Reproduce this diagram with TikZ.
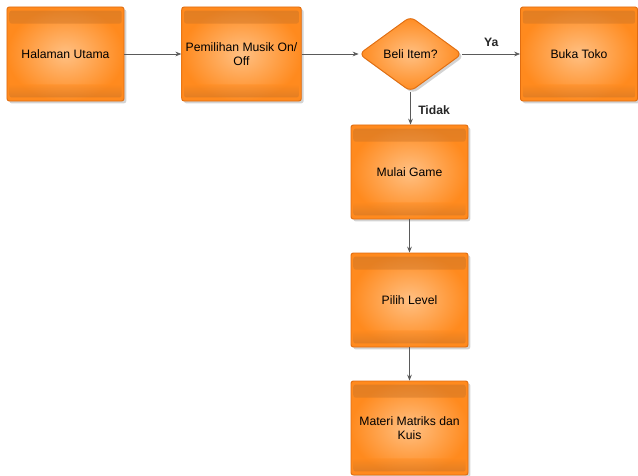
\documentclass[tikz,border=0pt]{standalone}
\usepackage{fontspec}
\setmainfont{Liberation Sans}
\usepackage{tikz}
\usetikzlibrary{arrows.meta, shapes.geometric, shadows}

\definecolor{oranyeTerang}{HTML}{FFC083}
\definecolor{oranyeGelap}{HTML}{FF8A1E}
\definecolor{oranyeGaris}{HTML}{E06D10}
\definecolor{oranyePita}{HTML}{C0702A}
\definecolor{panah}{HTML}{5A5A5A}

\tikzset{
	kotak/.style={
		rectangle,
		rounded corners=2pt,
		draw=oranyeGaris,
		line width=0.8pt,
		inner color=oranyeTerang,
		outer color=oranyeGelap,
		minimum width=3.51cm,
		minimum height=2.82cm,
		align=center,
		font=\fontsize{10.4}{12}\selectfont,
		drop shadow={shadow xshift=2pt, shadow yshift=-2pt, opacity=0.35},
		path picture={
			\shade[top color=oranyePita, bottom color=oranyeGelap, opacity=0.45, rounded corners=2pt]
				([xshift=2pt, yshift=-3pt]path picture bounding box.north west) rectangle
				([xshift=-2pt, yshift=-0.5cm]path picture bounding box.north east);
			\shade[top color=oranyeGelap, bottom color=oranyePita, opacity=0.45, rounded corners=2pt]
				([xshift=2pt, yshift=3pt]path picture bounding box.south west) rectangle
				([xshift=-2pt, yshift=0.5cm]path picture bounding box.south east);
		}
	},
	keputusan/.style={
		diamond,
		rounded corners=5pt,
		draw=oranyeGaris,
		line width=0.8pt,
		inner color=oranyeTerang,
		outer color=oranyeGelap,
		minimum width=3.09cm,
		minimum height=2.25cm,
		inner sep=0pt,
		font=\fontsize{10.4}{12}\selectfont,
		drop shadow={shadow xshift=2pt, shadow yshift=-2pt, opacity=0.35}
	},
	alur/.style={
		draw=panah,
		line width=0.6pt,
		-{Stealth[length=5pt, width=4pt]}
	},
	label/.style={
		font=\fontsize{10.4}{12}\selectfont\bfseries,
		text=black!85
	}
}

\begin{document}
\begin{tikzpicture}[x=0.03cm, y=-0.03cm]
	\useasboundingbox (0,0) rectangle (638,476);

	% Baris atas
	\node[kotak] (utama) at (65.5,54) {Halaman Utama};
	\node[kotak] (musik) at (241.5,54) {Pemilihan Musik On/\\Off};
	\node[keputusan] (beli) at (410.5,54) {Beli Item?};
	\node[kotak] (toko) at (579,54) {Buka Toko};

	% Kolom bawah
	\node[kotak] (mulai) at (409.5,172) {Mulai Game};
	\node[kotak] (level) at (409.5,300) {Pilih Level};
	\node[kotak] (materi) at (409.5,428) {Materi Matriks dan\\Kuis};

	% Panah
	\draw[alur] (utama) -- (musik);
	\draw[alur] (musik) -- (beli);
	\draw[alur] (beli) -- node[label, above=3pt] {Ya} (toko);
	\draw[alur] (beli.south) -- node[label, right=3pt, pos=0.55] {Tidak} (beli.south |- mulai.north);
	\draw[alur] (mulai) -- (level);
	\draw[alur] (level) -- (materi);

\end{tikzpicture}
\end{document}
